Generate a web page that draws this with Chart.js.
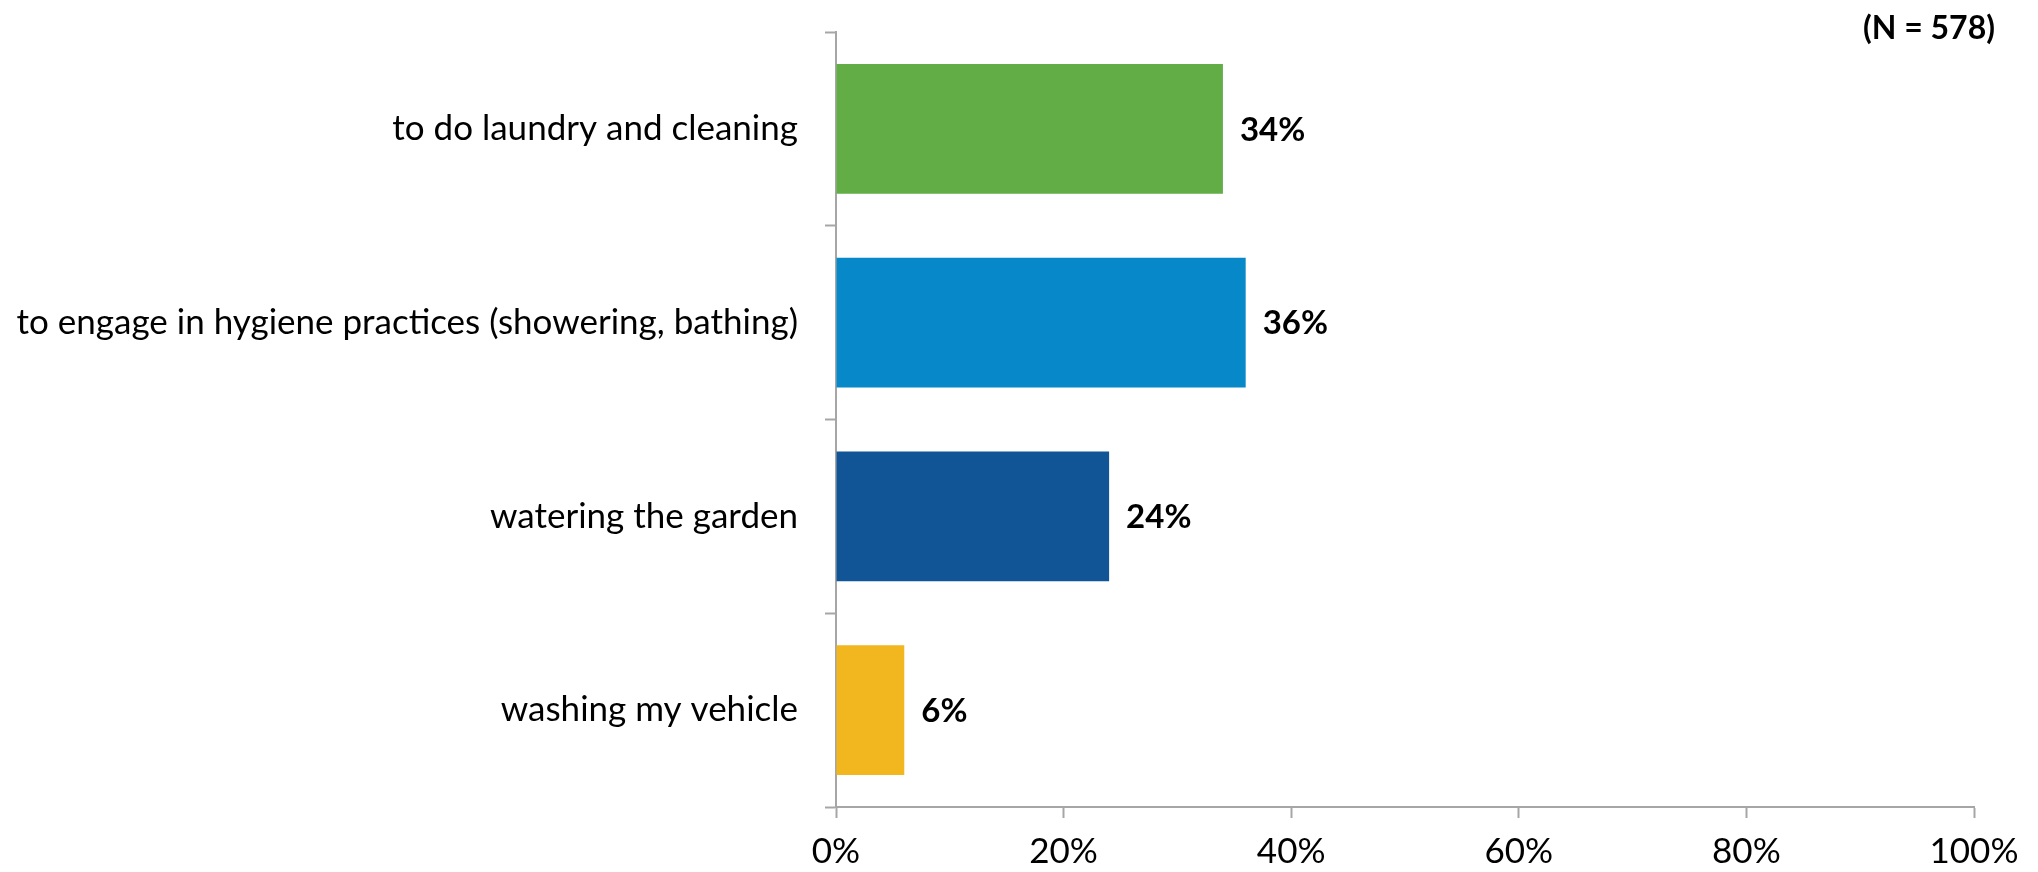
<!DOCTYPE html>
<html>
<head>
<meta charset="utf-8">
<script src="https://cdn.jsdelivr.net/npm/chart.js@4.4.1/dist/chart.umd.min.js"></script>
<style>
html,body{margin:0;padding:0;background:#fff;}
#wrap{width:2038px;height:872px;position:relative;}
</style>
</head>
<body>
<div id="wrap"><canvas id="c" width="2038" height="872"></canvas></div>
<script>
const categories = [
  "to do laundry and cleaning",
  "to engage in hygiene practices (showering, bathing)",
  "watering the garden",
  "washing my vehicle"
];
const values = [34, 36, 24, 6];
const valueLabels = ["34%", "36%", "24%", "6%"];
const barColors = ["#62AD46", "#0788C9", "#125597", "#F2B61E"];
const xTicks = [0, 20, 40, 60, 80, 100];
const noteText = "(N = 578)";

const FONT = "Lato, 'Open Sans', sans-serif";
const AXIS = "#A6A6A6";

const labelPlugin = {
  id: 'valueLabels',
  afterDatasetsDraw(chart) {
    const ctx = chart.ctx;
    const meta = chart.getDatasetMeta(0);
    ctx.save();
    ctx.font = "bold 33px " + FONT;
    ctx.fillStyle = "#000";
    ctx.textAlign = "left";
    ctx.textBaseline = "middle";
    meta.data.forEach((bar, i) => {
      ctx.fillText(valueLabels[i], bar.x + 17, bar.y + 1);
    });
    ctx.font = "bold 32px " + FONT;
    ctx.textAlign = "right";
    ctx.fillText(noteText, chart.width - 43, 29);
    ctx.restore();
  }
};

new Chart(document.getElementById('c'), {
  type: 'bar',
  data: {
    labels: categories,
    datasets: [{
      data: values,
      backgroundColor: barColors,
      borderWidth: 0,
      barPercentage: 0.67,
      categoryPercentage: 1.0
    }]
  },
  options: {
    indexAxis: 'y',
    responsive: false,
    animation: false,
    layout: { padding: { top: 32, right: 64, left: 0, bottom: 0 } },
    plugins: { legend: { display: false }, tooltip: { enabled: false } },
    scales: {
      x: {
        min: 0, max: 100,
        afterBuildTicks(axis) { axis.ticks = xTicks.map(v => ({ value: v })); },
        afterFit(axis) { axis.height = 65; },
        grid: { drawOnChartArea: false, drawTicks: true, tickLength: 11, tickColor: AXIS, tickWidth: 2 },
        border: { color: AXIS, width: 2 },
        ticks: {
          color: "#000",
          font: { family: FONT, size: 35 },
          padding: 13,
          maxRotation: 0,
          callback: v => v + "%"
        }
      },
      y: {
        afterFit(axis) { axis.width = 836; axis.paddingTop = 0; axis.paddingBottom = 0; },
        grid: { drawOnChartArea: false, drawTicks: true, tickLength: 11, tickColor: AXIS, tickWidth: 2, offset: true },
        border: { color: AXIS, width: 2 },
        ticks: {
          color: "#000",
          font: { family: FONT, size: 35 },
          padding: 27
        }
      }
    }
  },
  plugins: [labelPlugin]
});
</script>
</body>
</html>
